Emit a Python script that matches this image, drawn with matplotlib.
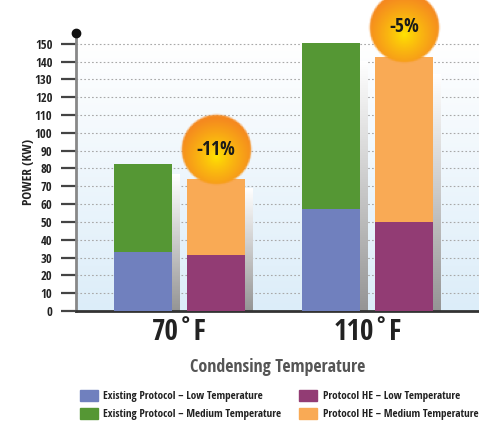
import numpy as np
import matplotlib
matplotlib.use("Agg")
import matplotlib.pyplot as plt
from matplotlib.patches import Patch
from matplotlib.offsetbox import OffsetImage, AnnotationBbox
from matplotlib.colors import to_rgb

plt.rcParams['font.family'] = ['Open Sans Condensed', 'DejaVu Sans']
plt.rcParams['font.weight'] = 'bold'

# data
groups = ['70˚F', '110˚F']
existing_low = [33, 57]
existing_med_total = [82.5, 150.5]
he_low = [31.5, 50]
he_med_total = [74, 142.7]
savings = ['-11%', '-5%']

legend_labels = ['Existing Protocol – Low Temperature',
                 'Existing Protocol – Medium Temperature',
                 'Protocol HE – Low Temperature',
                 'Protocol HE – Medium Temperature']

BLUE = '#7080be'
GREEN = '#559734'
PURPLE = '#923c74'
ORANGE = '#f9aa55'

W, H = 479, 422
fig = plt.figure(figsize=(W / 100, H / 100), dpi=100)
ax = fig.add_axes([76 / W, 1 - 311 / H, (W - 76) / W, (311 - 33) / H])

YMAX = 156
XMIN, XMAX = -0.551, 1.593
ax.set_xlim(XMIN, XMAX)
ax.set_ylim(0, YMAX)

# background gradient, light blue at bottom to white at top
grad = np.linspace(0, 1, 256)[:, None]
bot = np.array(to_rgb('#dcedf9'))
top = np.array([1.0, 1.0, 1.0])
bg = bot[None, None, :] * (1 - grad[:, :, None]) + top[None, None, :] * grad[:, :, None]
ax.imshow(bg, extent=[XMIN, XMAX, 0, 150], origin='lower', aspect='auto', zorder=0)

# dotted grid
for v in range(10, 151, 10):
    ax.axhline(v, color='#a8a8a8', lw=0.8, ls=(0, (1.5, 2)), zorder=1)

x = np.arange(len(groups))
off = 0.195
bw = 0.31
sw = 0.038

# shadow strips to the right of each bar
def shadow(xc, h):
    g = np.linspace(0, 1, 128)[:, None]
    c0 = np.array(to_rgb('#959595'))
    c1 = np.array([1.0, 1.0, 1.0])
    img = c0[None, None, :] * (1 - g[:, :, None]) + c1[None, None, :] * g[:, :, None]
    ax.imshow(img, extent=[xc + bw / 2, xc + bw / 2 + sw, 0, h * 0.93],
              origin='lower', aspect='auto', zorder=2)

for i in range(len(groups)):
    shadow(x[i] - off, existing_med_total[i])
    shadow(x[i] + off, he_med_total[i])
ax.set_xlim(XMIN, XMAX)
ax.set_ylim(0, YMAX)

ex_med = np.array(existing_med_total) - np.array(existing_low)
he_med = np.array(he_med_total) - np.array(he_low)
ax.bar(x - off, existing_low, bw, color=BLUE, zorder=3)
ax.bar(x - off, ex_med, bw, bottom=existing_low, color=GREEN, zorder=3)
ax.bar(x + off, he_low, bw, color=PURPLE, zorder=3)
ax.bar(x + off, he_med, bw, bottom=he_low, color=ORANGE, zorder=3)

# savings badges
def badge(r=25):
    n = 2 * r + 4
    yy, xx = np.mgrid[0:n, 0:n]
    cx, cy = n / 2 - 0.5, n / 2 - 0.5
    d = np.hypot(xx - cx, yy - cy) / r
    dc = np.hypot(xx - cx, yy - (cy + r * 0.2)) / r
    t = np.clip(dc / 1.1, 0, 1) ** 0.8
    c_in = np.array(to_rgb('#ffe600'))
    c_out = np.array(to_rgb('#f5891f'))
    rgb = c_in * (1 - t[..., None]) + c_out * t[..., None]
    alpha = np.clip((1.0 - d) * r / 1.5 + 0.5, 0, 1)
    return np.dstack([rgb, alpha])

img = badge()
for i in range(len(groups)):
    pos = (x[i] + off, he_med_total[i] + 16.5)
    ab = AnnotationBbox(OffsetImage(img, zoom=1), pos, frameon=False,
                        annotation_clip=False, zorder=5)
    ax.add_artist(ab)
    ax.text(pos[0], pos[1], savings[i], ha='center', va='center', fontsize=14,
            color='#1a1a1a', zorder=6, clip_on=False)

# axes styling
for s in ['top', 'right']:
    ax.spines[s].set_visible(False)
ax.spines['left'].set_color('#888888')
ax.spines['left'].set_linewidth(2)
ax.spines['bottom'].set_color('#333333')
ax.spines['bottom'].set_linewidth(2)
ax.plot([XMIN], [YMAX], 'o', color='#111111', ms=6, clip_on=False, zorder=6)

ax.set_yticks(range(0, 151, 10))
ax.tick_params(axis='y', length=11, width=1.6, color='#444444', pad=6,
               labelsize=9, labelcolor='#222222')
ax.set_xticks(x)
ax.set_xticklabels(groups, fontsize=21, color='#222222')
ax.tick_params(axis='x', length=0, pad=5)
ax.set_ylabel('POWER (KW)', fontsize=9.5, color='#222222', labelpad=0)
ax.set_xlabel('Condensing Temperature', fontsize=13, color='#555555', labelpad=8)

handles = [Patch(color=BLUE), Patch(color=GREEN), Patch(color=PURPLE), Patch(color=ORANGE)]
fig.legend(handles, legend_labels, ncol=2, loc='upper left',
           bbox_to_anchor=(70 / W, 1 - 380 / H), frameon=False, fontsize=8,
           handlelength=1.6, handleheight=1.2, handletextpad=0.5,
           columnspacing=1.6, labelspacing=0.5, labelcolor='#222222')

fig.savefig('out.png', dpi=100)
